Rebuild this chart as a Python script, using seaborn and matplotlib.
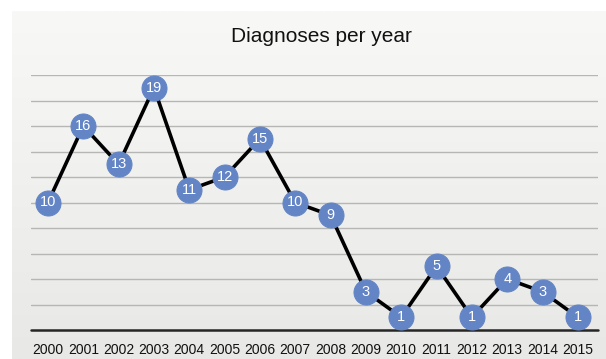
import matplotlib
matplotlib.use("Agg")
import matplotlib.pyplot as plt
import numpy as np
import pandas as pd
import seaborn as sns
from matplotlib.colors import LinearSegmentedColormap

years = list(range(2000, 2016))
diagnoses = [10, 16, 13, 19, 11, 12, 15, 10, 9, 3, 1, 5, 1, 4, 3, 1]
title = "Diagnoses per year"

sns.set_theme(style="white")
plt.rcParams['font.family'] = ['Liberation Sans', 'DejaVu Sans']

W, H = 606, 359
fig = plt.figure(figsize=(W / 100, H / 100), dpi=100)
fig.patch.set_facecolor("white")

# background panel with soft gradient
bg = fig.add_axes([12 / W, 0, 1 - 12 / W, 1 - 11 / H])
grad = np.linspace(0, 1, 256).reshape(-1, 1)
cmap = LinearSegmentedColormap.from_list("g", ["#f8f8f7", "#e8e8e6"])
bg.imshow(grad, aspect="auto", cmap=cmap, extent=[0, 1, 0, 1], origin="upper")
bg.set_axis_off()

left, right = 31 / W, 598 / W
bottom = 1 - 330 / H
top = 1 - 75 / H
ax = fig.add_axes([left, bottom, right - left, top - bottom])
ax.set_facecolor("none")

df = pd.DataFrame({"year": years, "n": diagnoses})
for v in range(2, 21, 2):
    ax.axhline(v, color="#b6b6b4", lw=1.0, zorder=0)
ax.axhline(0, color="#262626", lw=1.8, zorder=1, clip_on=False)

sns.lineplot(data=df, x="year", y="n", ax=ax, color="black", lw=2.6,
             marker="o", markersize=18, markerfacecolor="#6385c6",
             markeredgecolor="#6385c6", zorder=3)
for x, y in zip(years, diagnoses):
    ax.text(x, y, str(y), color="white", ha="center", va="center",
            fontsize=10.5, zorder=4)

ax.set_xlim(1999.52, 2015.57)
ax.set_ylim(0, 20)
ax.set_xticks(years)
ax.set_xticklabels([str(y) for y in years], fontsize=10, color="#111111")
ax.tick_params(axis="x", length=0, pad=9)
ax.set_yticks([])
ax.set_xlabel("")
ax.set_ylabel("")
for s in ax.spines.values():
    s.set_visible(False)

fig.text(321 / W, 1 - 36 / H, title, ha="center", va="center", fontsize=15,
         color="#111111")

fig.savefig("out.png", dpi=100)
